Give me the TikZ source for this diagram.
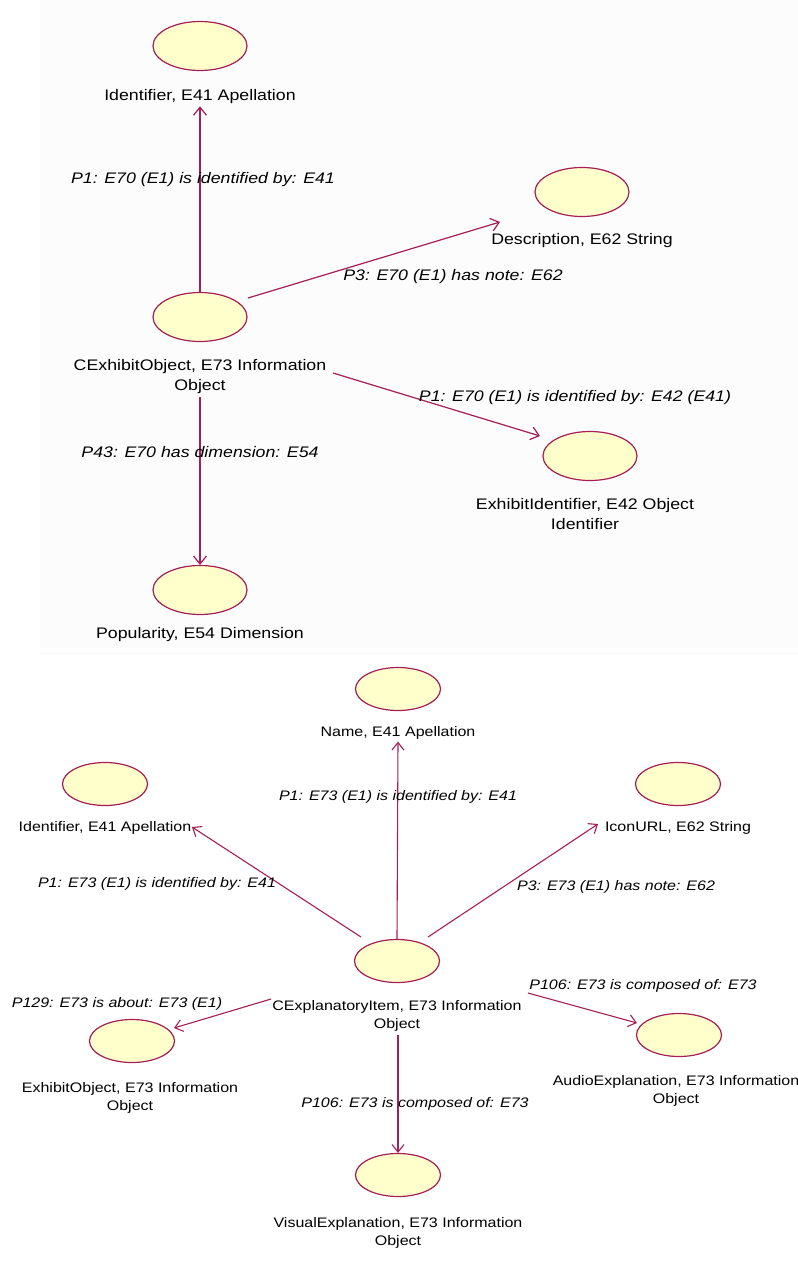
\documentclass[tikz,border=0pt]{standalone}
\usepackage{fontspec}
\setmainfont[FakeStretch=1.16]{Liberation Sans}
\usetikzlibrary{arrows.meta,calc,shapes.geometric}
\definecolor{linkred}{RGB}{165,30,85}
\definecolor{entfill}{RGB}{255,255,204}
\definecolor{panel}{RGB}{252,252,252}
\begin{document}
\begin{tikzpicture}[x=1pt,y=-1pt,
  % upper diagram
  entity/.style={ellipse,draw=linkred,fill=entfill,line width=1.2pt,
    minimum width=94pt,minimum height=49pt,inner sep=0pt},
  caption/.style={align=center,inner sep=2pt,font=\fontsize{15.3}{20}\selectfont},
  rlabel/.style={font=\fontsize{15.3}{20}\selectfont\itshape,inner sep=0pt},
  rel/.style={draw=linkred,line width=1.2pt,
    -{Straight Barb[length=8pt,width=13pt,line width=1.2pt]}},
  % lower diagram, drawn a little smaller
  entitysm/.style={entity,minimum width=85pt,minimum height=43pt},
  captionsm/.style={align=center,inner sep=2pt,font=\fontsize{13.8}{18.5}\selectfont},
  rlabelsm/.style={font=\fontsize{13.8}{18.5}\selectfont\itshape,inner sep=0pt},
  relsm/.style={draw=linkred,line width=1.1pt,
    -{Straight Barb[length=7.5pt,width=12pt,line width=1.1pt]}}]
\useasboundingbox (0,0) rectangle (798,1272);
\fill[panel] (40,0) rectangle (798,655);

% ---- CExhibitObject and its properties ----
\node[entity] (idA) at (200,46) {};
\node[caption] (idAt) at (200,97) {Identifier, E41 Apellation};
\node[entity] (deA) at (582,192) {};
\node[caption] (deAt) at (582,241) {Description, E62 String};
\node[entity] (coE) at (200,317) {};
\node[caption] (coEt) at (200,377) {CExhibitObject, E73 Information\\Object};
\node[entity] (exI) at (590,456) {};
\node[caption] (exIt) at (585,514) {ExhibitIdentifier, E42 Object\\Identifier};
\node[entity] (pop) at (200,590) {};
\node[caption] (popt) at (200,635) {Popularity, E54 Dimension};

\draw[rel] (coE.north) -- (idAt.south);
\draw[rel] ($(coE)+(48,-19)$) -- ($(deAt)+(-82,-19)$);
\draw[rel] ($(coEt)+(133,-4)$) -- ($(exI)+(-50,-20)$);
\draw[rel] ($(coEt)+(0,20)$) -- (pop.north);

\node[rlabel] (l1) at (203,180) {P1: E70 (E1) is identified by: E41};
\node[rlabel] (l2) at (453,277) {P3: E70 (E1) has note: E62};
\node[rlabel] (l3) at (575,398) {P1: E70 (E1) is identified by: E42 (E41)};
\node[rlabel] (l4) at (200,452) {P43: E70 has dimension: E54};

% ---- CExplanatoryItem and its properties ----
\node[entitysm] (naA) at (398,689) {};
\node[captionsm] (naAt) at (398,733) {Name, E41 Apellation};
\node[entitysm] (id2) at (105,784) {};
\node[captionsm] (id2t) at (105,828) {Identifier, E41 Apellation};
\node[entitysm] (ic) at (678,784) {};
\node[captionsm] (ict) at (678,828) {IconURL, E62 String};
\node[entitysm] (cx) at (397,961) {};
\node[captionsm] (cxt) at (397,1016) {CExplanatoryItem, E73 Information\\Object};
\node[entitysm] (eo) at (132,1041) {};
\node[captionsm] (eot) at (130,1098) {ExhibitObject, E73 Information\\Object};
\node[entitysm] (au) at (679,1035) {};
\node[captionsm] (aut) at (676,1091) {AudioExplanation, E73 Information\\Object};
\node[entitysm] (vi) at (398,1175) {};
\node[captionsm] (vit) at (398,1233) {VisualExplanation, E73 Information\\Object};

\draw[relsm] (cx.north) -- (naAt.south);
\draw[relsm] ($(cx)+(-36,-24)$) -- ($(id2t)+(87,-1)$);
\draw[relsm] ($(cx)+(31,-24)$) -- ($(ict)+(-80,-4)$);
\draw[relsm] ($(cxt)+(-126,-17)$) -- ($(eo)+(42,-13)$);
\draw[relsm] ($(cxt)+(131,-23)$) -- ($(au)+(-42,-12)$);
\draw[relsm] ($(cxt)+(1,19)$) -- (vi.north);

\node[rlabelsm] (l5) at (398,797) {P1: E73 (E1) is identified by: E41};
\node[rlabelsm] (l6) at (157,884) {P1: E73 (E1) is identified by: E41};
\node[rlabelsm] (l7) at (616,887) {P3: E73 (E1) has note: E62};
\node[rlabelsm] (l8) at (117,1004) {P129: E73 is about: E73 (E1)};
\node[rlabelsm] (l9) at (643,986) {P106: E73 is composed of: E73};
\node[rlabelsm] (l10) at (415,1104) {P106: E73 is composed of: E73};
\end{tikzpicture}
\end{document}
